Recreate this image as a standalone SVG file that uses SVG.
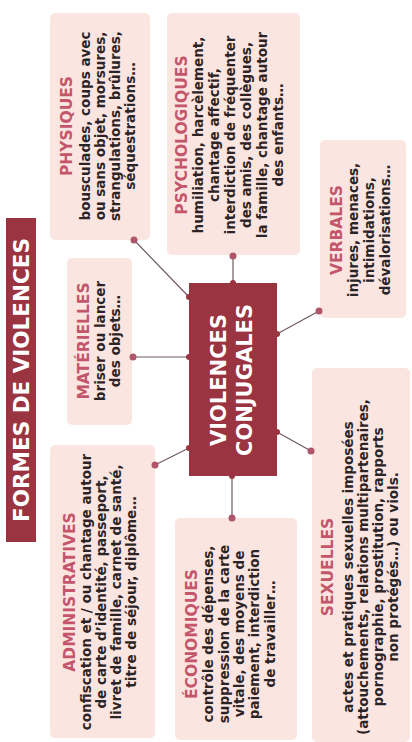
<svg xmlns="http://www.w3.org/2000/svg" width="412" height="742" viewBox="0 0 412 742">
<style>
.box{fill:#fbe5e1}
.dark{fill:#9b3441}
.h{font-family:"DejaVu Sans",sans-serif;font-weight:bold;font-size:15.5px;fill:#c4566b;text-anchor:middle}
.b{font-family:"DejaVu Sans",sans-serif;font-weight:bold;font-size:13.5px;fill:#2b2426;text-anchor:middle}
.w{font-family:"DejaVu Sans",sans-serif;font-weight:bold;fill:#ffffff;text-anchor:middle}
.ln{stroke:#6e5a5e;stroke-width:1.2;fill:none}
.dot{fill:#b0566a}
.knob{fill:#9b3441}
</style>
<rect width="412" height="742" fill="#ffffff"/>
<g transform="translate(0,742) rotate(-90)">
  <g id="title">
    <rect class="dark" x="200" y="6" width="324" height="30"/>
    <text class="w" x="362" y="29" font-size="21.5">FORMES DE VIOLENCES</text>
  </g>
  <g id="connectors">
    <line class="ln" x1="502" y1="134" x2="445" y2="189"/>
    <line class="ln" x1="486" y1="233" x2="459" y2="233"/>
    <line class="ln" x1="431" y1="319" x2="408" y2="277"/>
    <line class="ln" x1="385" y1="133" x2="385" y2="189"/>
    <line class="ln" x1="277" y1="155" x2="294" y2="189"/>
    <line class="ln" x1="224" y1="232" x2="267" y2="232"/>
    <line class="ln" x1="291" y1="311" x2="310" y2="277"/>
  </g>
  <g id="physiques">
    <rect class="box" x="502" y="50" width="227" height="100" rx="5"/>
    <text class="h" x="616" y="72">PHYSIQUES</text>
    <text class="b" x="616" y="90">bousculades, coups avec</text>
    <text class="b" x="616" y="105">ou sans objet, morsures,</text>
    <text class="b" x="616" y="120">strangulations, brûlures,</text>
    <text class="b" x="616" y="135">séquestrations…</text>
  </g>
  <g id="psychologiques">
    <rect class="box" x="487" y="167" width="242" height="133" rx="5"/>
    <text class="h" x="607" y="187">PSYCHOLOGIQUES</text>
    <text class="b" x="607" y="203">humiliation, harcèlement,</text>
    <text class="b" x="607" y="219">chantage affectif,</text>
    <text class="b" x="607" y="235">interdiction de fréquenter</text>
    <text class="b" x="607" y="251">des amis, des collègues,</text>
    <text class="b" x="607" y="267">la famille, chantage autour</text>
    <text class="b" x="607" y="283">des enfants…</text>
  </g>
  <g id="verbales">
    <rect class="box" x="424" y="320" width="178" height="86" rx="5"/>
    <text class="h" x="512" y="342">VERBALES</text>
    <text class="b" x="512" y="358">injures, menaces,</text>
    <text class="b" x="512" y="374">intimidations,</text>
    <text class="b" x="512" y="390">dévalorisations…</text>
  </g>
  <g id="materielles">
    <rect class="box" x="317" y="67" width="167" height="65" rx="5"/>
    <text class="h" x="401" y="89">MATÉRIELLES</text>
    <text class="b" x="401" y="105">briser ou lancer</text>
    <text class="b" x="401" y="120">des objets…</text>
  </g>
  <g id="violences-conjugales">
    <rect class="dark" x="266" y="189" width="193" height="88"/>
    <text class="w" x="362" y="226" font-size="21">VIOLENCES</text>
    <text class="w" x="362" y="252" font-size="21">CONJUGALES</text>
  </g>
  <g id="administratives">
    <rect class="box" x="4" y="50" width="293" height="105" rx="5"/>
    <text class="h" x="150" y="75">ADMINISTRATIVES</text>
    <text class="b" x="150" y="91">confiscation et / ou chantage autour</text>
    <text class="b" x="150" y="106">de carte d’identité, passeport,</text>
    <text class="b" x="150" y="121">livret de famille, carnet de santé,</text>
    <text class="b" x="150" y="136">titre de séjour, diplôme…</text>
  </g>
  <g id="economiques">
    <rect class="box" x="2" y="175" width="222" height="122" rx="5"/>
    <text class="h" x="108" y="197">ÉCONOMIQUES</text>
    <text class="b" x="108" y="213">contrôle des dépenses,</text>
    <text class="b" x="108" y="229">suppression de la carte</text>
    <text class="b" x="108" y="244">vitale, des moyens de</text>
    <text class="b" x="108" y="259">paiement, interdiction</text>
    <text class="b" x="108" y="275">de travailler…</text>
  </g>
  <g id="sexuelles">
    <rect class="box" x="0" y="312" width="374" height="98" rx="5"/>
    <text class="h" x="175" y="333">SEXUELLES</text>
    <text class="b" x="175" y="353">actes et pratiques sexuelles imposées</text>
    <text class="b" x="175" y="368">(attouchements, relations multipartenaires,</text>
    <text class="b" x="175" y="383">pornographie, prostitution, rapports</text>
    <text class="b" x="175" y="398">non protégés…) ou viols.</text>
  </g>
  <g id="endpoints">
    <circle class="dot" cx="502" cy="134" r="3.5"/>
    <circle class="dot" cx="486" cy="233" r="3.5"/>
    <circle class="dot" cx="431" cy="319" r="3.5"/>
    <circle class="dot" cx="385" cy="133" r="3.5"/>
    <circle class="dot" cx="277" cy="155" r="3.5"/>
    <circle class="dot" cx="224" cy="232" r="3.5"/>
    <circle class="dot" cx="291" cy="311" r="3.5"/>
    <circle class="knob" cx="445" cy="189" r="3"/>
    <circle class="knob" cx="459" cy="233" r="3"/>
    <circle class="knob" cx="408" cy="277" r="3"/>
    <circle class="knob" cx="385" cy="189" r="3"/>
    <circle class="knob" cx="294" cy="189" r="3"/>
    <circle class="knob" cx="266" cy="232" r="3"/>
    <circle class="knob" cx="310" cy="277" r="3"/>
  </g>
</g>
</svg>
